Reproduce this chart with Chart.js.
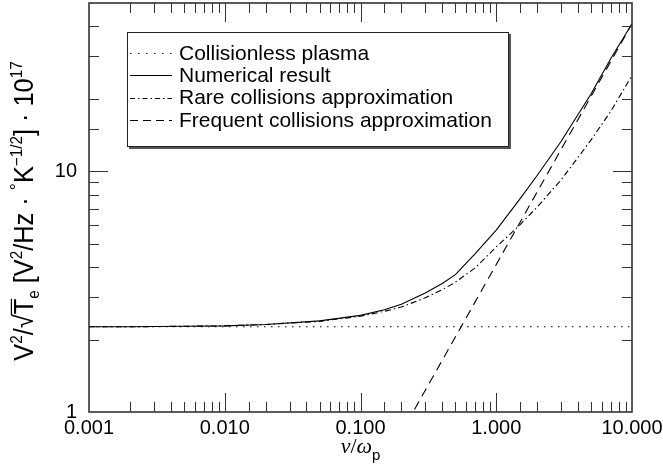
<!DOCTYPE html>
<html><head><meta charset="utf-8">
<script src="https://cdn.jsdelivr.net/npm/chart.js@4/dist/chart.umd.min.js"></script>
<style>html,body{margin:0;padding:0;background:#fff;}</style>
</head><body>
<canvas id="c" width="663" height="469"></canvas>
<script>
// ---- data ----
const nuGrid = [0.001, 0.002, 0.005, 0.01, 0.02, 0.05, 0.1, 0.15, 0.2, 0.3, 0.4, 0.5, 0.7, 1, 1.5, 2, 3, 5, 7, 10];
const numerical = [2.26, 2.26, 2.27, 2.28, 2.31, 2.39, 2.52, 2.66, 2.80, 3.12, 3.42, 3.72, 4.55, 5.7, 7.7, 9.6, 13.3, 21.0, 29.5, 41.0];
const rare      = [2.26, 2.26, 2.27, 2.28, 2.31, 2.38, 2.50, 2.62, 2.73, 2.98, 3.22, 3.46, 3.97, 4.85, 6.0, 7.1, 9.2, 13.5, 17.8, 25.0];
const collisionlessX = [0.001, 10];
const collisionless  = [2.26, 2.26];
const frequentX = [0.25, 10];
const frequent  = [1.025, 41.0];
const xTickLabels = ['0.001', '0.010', '0.100', '1.000', '10.000'];
const yTickLabels = ['1', '10'];
const seriesNames = ['Collisionless plasma', 'Numerical result', 'Rare collisions approximation', 'Frequent collisions approximation'];

const pts = (xs, ys) => xs.map((x, i) => ({x, y: ys[i]}));
const isDecade = v => Math.abs(Math.log10(v) - Math.round(Math.log10(v))) < 1e-9;
const decadeLabel = (v, labels, first) => {
  if (!isDecade(v)) return '';
  const i = Math.round(Math.log10(v)) - first;
  return labels[i] !== undefined ? labels[i] : '';
};

const SANS = '"Liberation Sans", Arial, Helvetica, sans-serif';
const SERIF = '"Liberation Serif", "Times New Roman", serif';

const styles = [
  {dash: [1.5, 5.5], legDash: [1.5, 6.5]},
  {dash: [], legDash: []},
  {dash: [6, 3, 1.5, 3], legDash: [5, 3, 1.5, 3]},
  {dash: [9, 6], legDash: [8, 5]}
];

const datasets = [
  {label: seriesNames[0], data: pts(collisionlessX, collisionless)},
  {label: seriesNames[1], data: pts(nuGrid, numerical)},
  {label: seriesNames[2], data: pts(nuGrid, rare)},
  {label: seriesNames[3], data: pts(frequentX, frequent)}
].map((d, i) => Object.assign(d, {
  showLine: true, pointRadius: 0, borderColor: '#000', borderWidth: 1.1,
  borderDash: styles[i].dash, tension: 0, fill: false
}));

function drawPieces(ctx, pieces, S) {
  let x = 0;
  for (const p of pieces) {
    const fs = S * (p.s || 1);
    ctx.font = (p.style || '') + ' ' + fs + 'px ' + (p.fam || SANS);
    const w = ctx.measureText(p.t).width;
    const dy = (p.dy || 0) * S;
    ctx.fillText(p.t, x, dy);
    if (p.over) {
      ctx.save();
      ctx.lineWidth = 1.2;
      ctx.beginPath();
      ctx.moveTo(x - 1, -0.80 * S);
      ctx.lineTo(x + w, -0.80 * S);
      ctx.stroke();
      ctx.restore();
    }
    x += w + (p.gap || 0) * S;
  }
  return x;
}
function measurePieces(ctx, pieces, S) {
  let x = 0;
  for (const p of pieces) {
    const fs = S * (p.s || 1);
    ctx.font = (p.style || '') + ' ' + fs + 'px ' + (p.fam || SANS);
    x += ctx.measureText(p.t).width + (p.gap || 0) * S;
  }
  return x;
}

const yTitle = [
  {t: 'V'}, {t: '2', s: .6, dy: -.42}, {t: '/'}, {t: '√'}, {t: 'T', over: true}, {t: 'e', s: .6, dy: .22},
  {t: ' [V'}, {t: '2', s: .6, dy: -.42}, {t: '/Hz · '}, {t: '°', s: .7, dy: -.38}, {t: 'K'},
  {t: '−1/2', s: .6, dy: -.42}, {t: '] · 10'}, {t: '17', s: .6, dy: -.42}
];
const xTitle = [
  {t: 'ν', fam: SERIF, style: 'italic'}, {t: '/', fam: SERIF}, {t: 'ω', fam: SERIF, style: 'italic'},
  {t: 'p', s: .68, dy: .3}
];

const decor = {
  id: 'decor',
  afterDatasetsDraw(chart) {
    const {ctx, chartArea: a, scales: {x, y}} = chart;
    ctx.save();
    ctx.strokeStyle = '#333';
    ctx.lineWidth = 1;
    const line = (x1, y1, x2, y2) => { ctx.beginPath(); ctx.moveTo(x1, y1); ctx.lineTo(x2, y2); ctx.stroke(); };
    x.ticks.forEach(t => {
      const px = Math.round(x.getPixelForValue(t.value)) + 0.5;
      if (px < a.left + 1 || px > a.right - 1) return;
      const L = isDecade(t.value) ? 19 : 10;
      line(px, a.bottom, px, a.bottom - L);
      line(px, a.top, px, a.top + L);
    });
    y.ticks.forEach(t => {
      const py = Math.round(y.getPixelForValue(t.value)) + 0.5;
      if (py < a.top + 1 || py > a.bottom - 1) return;
      const L = isDecade(t.value) ? 19 : 10;
      line(a.left, py, a.left + L, py);
      line(a.right, py, a.right - L, py);
    });
    ctx.lineWidth = 1.6;
    ctx.strokeRect(a.left, a.top, a.right - a.left, a.bottom - a.top);

    // legend
    const bx = 127, by = 32, bw = 381, bh = 114;
    ctx.fillStyle = '#555';
    ctx.fillRect(bx + 2, by + 2, bw + 1, bh + 1);
    ctx.fillStyle = '#fff';
    ctx.fillRect(bx, by, bw, bh);
    ctx.strokeStyle = '#222';
    ctx.lineWidth = 1;
    ctx.strokeRect(bx + 0.5, by + 0.5, bw, bh);
    ctx.font = '21px ' + SANS;
    ctx.textBaseline = 'middle';
    ctx.fillStyle = '#000';
    chart.data.datasets.forEach((d, i) => {
      const ry = 53 + i * 22.3;
      ctx.save();
      ctx.strokeStyle = '#000';
      ctx.lineWidth = 1.1;
      ctx.setLineDash(styles[i].legDash);
      line(130, Math.round(ry) + 0.5, 172, Math.round(ry) + 0.5);
      ctx.restore();
      ctx.fillText(d.label, 179, ry + 1);
    });

    // axis titles
    ctx.fillStyle = '#000';
    ctx.strokeStyle = '#000';
    ctx.textBaseline = 'alphabetic';
    const S = 27, sq = 0.94;
    const wy = measurePieces(ctx, yTitle, S) * sq;
    ctx.save();
    ctx.translate(33, 211 + wy / 2);
    ctx.rotate(-Math.PI / 2);
    ctx.scale(sq, 1);
    drawPieces(ctx, yTitle, S);
    ctx.restore();
    const S2 = 22;
    const wx = measurePieces(ctx, xTitle, S2);
    ctx.save();
    ctx.translate((a.left + a.right) / 2 - wx / 2, 453);
    drawPieces(ctx, xTitle, S2);
    ctx.restore();
    ctx.restore();
  }
};

new Chart(document.getElementById('c'), {
  type: 'scatter',
  data: {datasets},
  options: {
    responsive: false,
    animation: false,
    devicePixelRatio: 1,
    layout: {padding: {top: 3, right: 31, left: 0, bottom: 0}},
    plugins: {legend: {display: false}, tooltip: {enabled: false}},
    scales: {
      x: {
        type: 'logarithmic', position: 'bottom', min: 0.001, max: 10,
        grid: {display: false, drawTicks: false}, border: {display: false},
        ticks: {
          autoSkip: false, maxRotation: 0, padding: 4, color: '#000',
          font: {family: SANS, size: 20},
          callback: v => decadeLabel(v, xTickLabels, -3)
        },
        afterFit: s => { s.height = 57; s.paddingLeft = 0; s.paddingRight = 0; }
      },
      y: {
        type: 'logarithmic', position: 'left', min: 1, max: 50,
        grid: {display: false, drawTicks: false}, border: {display: false},
        ticks: {
          autoSkip: false, padding: 12, color: '#000',
          font: {family: SANS, size: 20},
          callback: v => decadeLabel(v, yTickLabels, 0)
        },
        afterFit: s => { s.width = 89; s.paddingTop = 0; s.paddingBottom = 0; }
      }
    }
  },
  plugins: [decor]
});
</script>
</body></html>
